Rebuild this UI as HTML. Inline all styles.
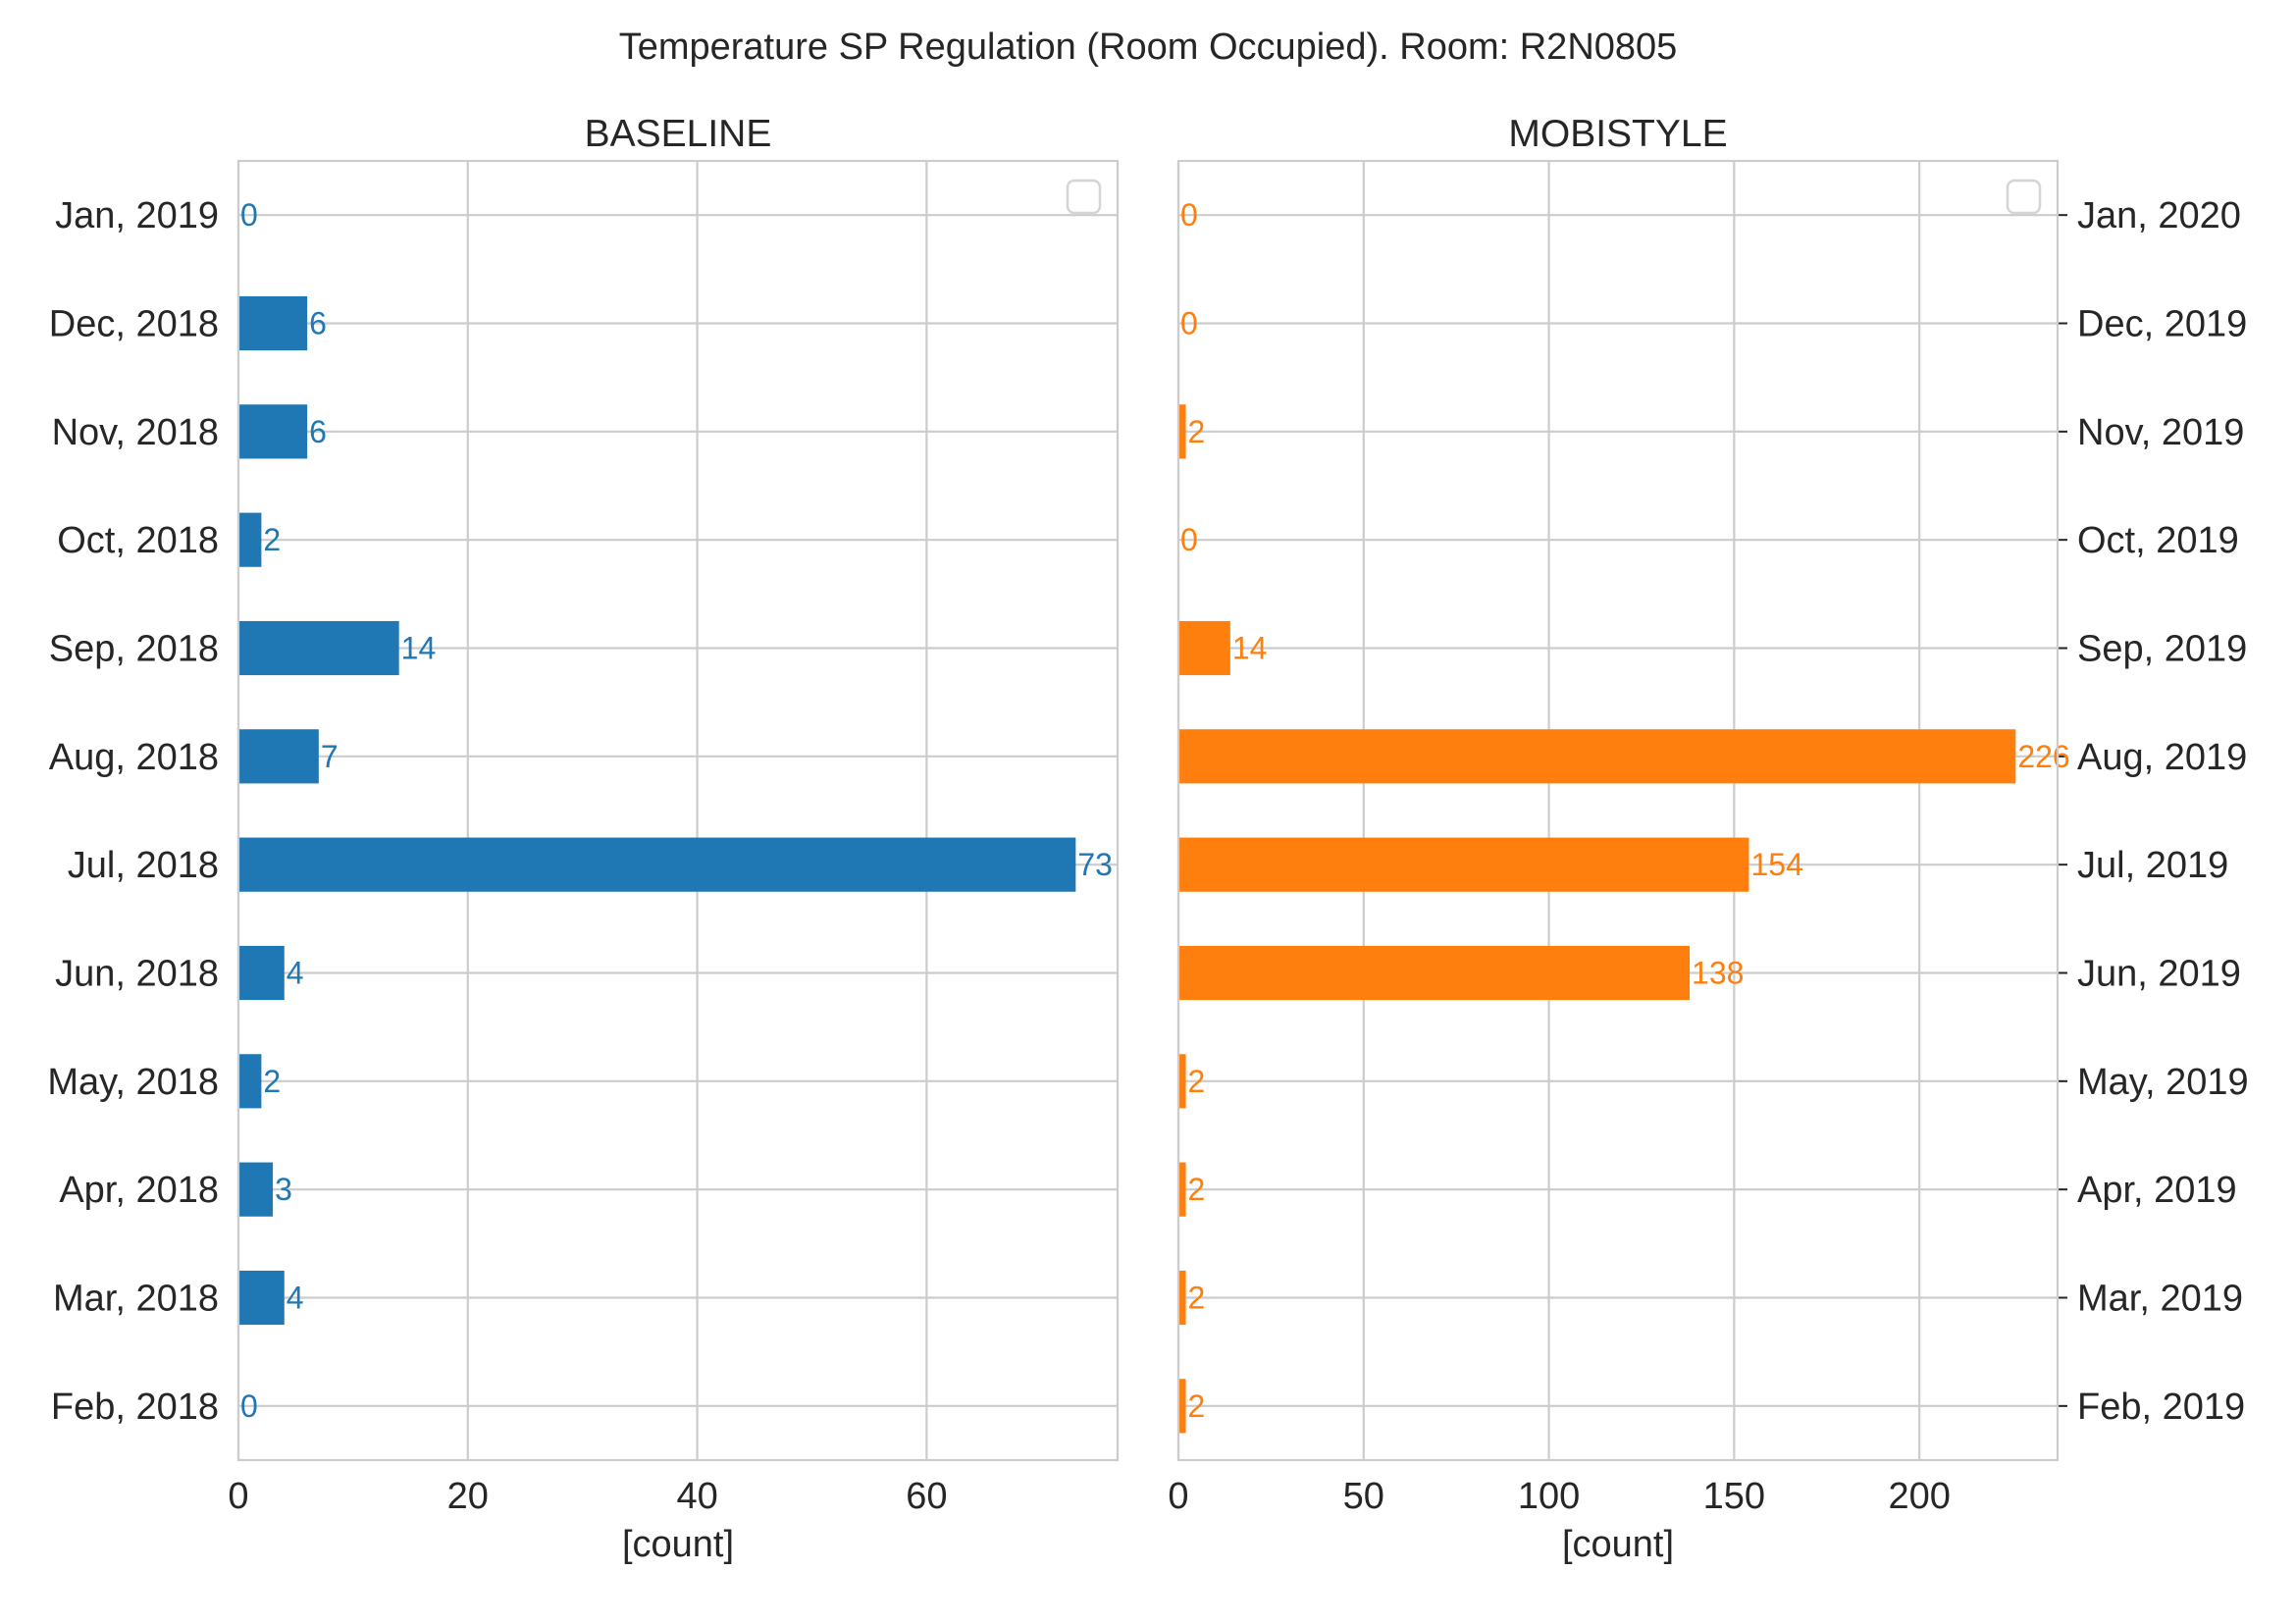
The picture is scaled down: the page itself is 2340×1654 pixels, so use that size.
<!DOCTYPE html>
<html><head><meta charset="utf-8"><style>
html,body{margin:0;padding:0;background:#fff}
svg{display:block;font-family:"Liberation Sans",Arial,sans-serif}
</style></head><body>
<svg id="chart" width="2340" height="1654" viewBox="0 0 2340 1654">
<text x="1170" y="60" text-anchor="middle" font-size="38" fill="#262626">Temperature SP Regulation (Room Occupied). Room: R2N0805</text>
<g id="left"></g>
<g id="right"></g>
</svg>
<script>
const leftLabels = ["Feb, 2018","Mar, 2018","Apr, 2018","May, 2018","Jun, 2018","Jul, 2018","Aug, 2018","Sep, 2018","Oct, 2018","Nov, 2018","Dec, 2018","Jan, 2019"];
const rightLabels = ["Feb, 2019","Mar, 2019","Apr, 2019","May, 2019","Jun, 2019","Jul, 2019","Aug, 2019","Sep, 2019","Oct, 2019","Nov, 2019","Dec, 2019","Jan, 2020"];
const baselineValues = [0,4,3,2,4,73,7,14,2,6,6,0];
const mobistyleValues = [2,2,2,2,138,154,226,14,0,2,0,0];
const leftTicks = [0,20,40,60];
const rightTicks = [0,50,100,150,200];

const NS = "http://www.w3.org/2000/svg";
function mk(tag, attrs, parent){const e=document.createElementNS(NS,tag);for(const k in attrs)e.setAttribute(k,attrs[k]);parent.appendChild(e);return e;}

function panel(g, x0, x1, title, labels, values, ticks, color, labelSide, nameKey){
  const y0=164, y1=1488, n=labels.length;
  const maxV=Math.max(...values)*1.05;
  const sx=v=>x0+(x1-x0)*v/maxV;
  const step=(y1-y0)/n;
  const sy=i=>y1-step*(i+0.5);
  const bh=step*0.5;
  for(const t of ticks){
    const l=mk("line",{x1:sx(t),x2:sx(t),y1:y0,y2:y1,stroke:"#cccccc","stroke-width":2.2},g);
    
    
    const tx=mk("text",{x:sx(t),y:1537,"text-anchor":"middle","font-size":38,fill:"#262626"},g);
    tx.textContent=t;
    
    
  }
  labels.forEach((lab,i)=>{
    const l=mk("line",{x1:x0,x2:x1,y1:sy(i),y2:sy(i),stroke:"#cccccc","stroke-width":2.2},g);
    
    
    let tx;
    if(labelSide==="left"){
      tx=mk("text",{x:223,y:sy(i)+13,"text-anchor":"end","font-size":38,fill:"#262626"},g);
    } else {
      const tk=mk("line",{x1:x1,x2:x1+10,y1:sy(i),y2:sy(i),stroke:"#262626","stroke-width":2},g);
      
      
      tx=mk("text",{x:2117,y:sy(i)+13,"text-anchor":"start","font-size":38,fill:"#262626"},g);
    }
    tx.textContent=lab;
    
    
  });
  values.forEach((v,i)=>{
    const r=mk("rect",{x:x0,y:sy(i)-bh/2,width:Math.max(0,sx(v)-x0),height:bh,fill:color},g);
    
    
    const t=mk("text",{x:sx(v)+2,y:sy(i)+11,"font-size":32,fill:color},g);
    t.textContent=v;
    
    
  });
  const fr=mk("rect",{x:x0,y:y0,width:x1-x0,height:y1-y0,fill:"none",stroke:"#cccccc","stroke-width":2.2},g);
  
  
  const lg=mk("rect",{x:x1-51,y:184,width:33,height:33,rx:7,fill:"#fff",stroke:"#d5d5d5","stroke-width":2.5},g);
  
  
  const st=mk("text",{x:(x0+x1)/2,y:149,"text-anchor":"middle","font-size":39,fill:"#262626"},g);
  st.textContent=title;
  
  
  const xl=mk("text",{x:(x0+x1)/2,y:1586,"text-anchor":"middle","font-size":38,fill:"#262626"},g);
  xl.textContent="[count]";
  
  
}
panel(document.getElementById("left"),243,1139,"BASELINE",leftLabels,baselineValues,leftTicks,"#1f77b4","left","baseline");
panel(document.getElementById("right"),1201,2097,"MOBISTYLE",rightLabels,mobistyleValues,rightTicks,"#ff7f0e","right","mobistyle");
</script>
</body></html>
